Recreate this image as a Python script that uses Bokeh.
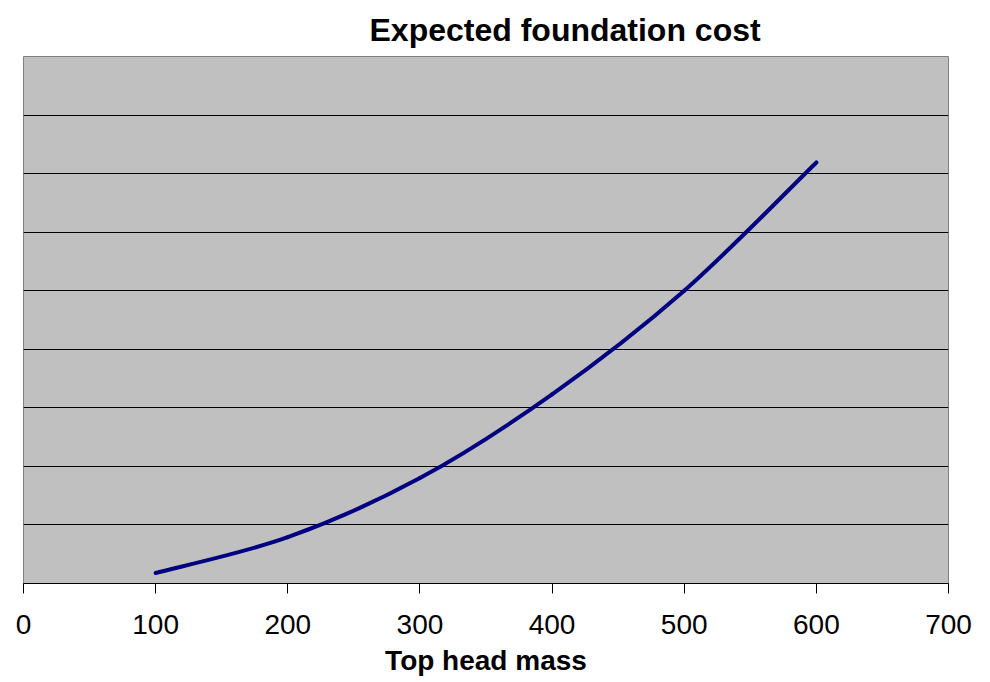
from bokeh.plotting import figure
from bokeh.models import Range1d, FixedTicker, ColumnDataSource
from bokeh.embed import file_html
from bokeh.resources import INLINE

# Expected foundation cost against top head mass
mass = [100, 200, 300, 400, 500, 600]
cost = [0.18, 0.79, 1.80, 3.23, 5.00, 7.19]
x_ticks = [0, 100, 200, 300, 400, 500, 600, 700]
y_grid = [1, 2, 3, 4, 5, 6, 7, 8]

FONT = "Liberation Sans"

p = figure(width=990, height=682, output_backend="svg", toolbar_location=None,
           x_range=Range1d(0, 700), y_range=Range1d(0, 9),
           min_border_left=23, min_border_right=42,
           min_border_top=56, min_border_bottom=99,
           title="Expected foundation cost")

p.border_fill_color = "white"
p.background_fill_color = "#C0C0C0"
p.outline_line_color = "#808080"
p.outline_line_width = 1

p.title.text_font = FONT
p.title.text_font_size = "32px"
p.title.text_font_style = "bold"
p.title.text_color = "black"
p.title.align = "left"
p.title.offset = 346
p.title.standoff = 18

p.yaxis.visible = False
p.ygrid.ticker = FixedTicker(ticks=y_grid)
p.ygrid.grid_line_color = "black"
p.ygrid.grid_line_width = 1
p.xgrid.grid_line_color = None

ax = p.xaxis[0]
ax.ticker = FixedTicker(ticks=x_ticks)
ax.axis_line_color = "black"
ax.axis_line_width = 1
ax.major_tick_line_color = "black"
ax.major_tick_out = 10
ax.major_tick_in = 0
ax.minor_tick_line_color = None
ax.major_label_text_font = FONT
ax.major_label_text_font_size = "28px"
ax.major_label_text_color = "black"
ax.major_label_standoff = 21
ax.axis_label = "Top head mass"
ax.axis_label_text_font = FONT
ax.axis_label_text_font_size = "28px"
ax.axis_label_text_font_style = "bold"
ax.axis_label_text_color = "black"
ax.axis_label_standoff = 8

# Smoothed curve: cubic Bezier segments through the data points
n = len(mass)
seg = dict(x0=[], y0=[], x1=[], y1=[], cx0=[], cy0=[], cx1=[], cy1=[])
for i in range(n - 1):
    xp, yp = (mass[i - 1], cost[i - 1]) if i > 0 else (mass[i], cost[i])
    xn, yn = (mass[i + 2], cost[i + 2]) if i + 2 < n else (mass[i + 1], cost[i + 1])
    seg["x0"].append(mass[i]); seg["y0"].append(cost[i])
    seg["x1"].append(mass[i + 1]); seg["y1"].append(cost[i + 1])
    seg["cx0"].append(mass[i] + (mass[i + 1] - xp) / 6)
    seg["cy0"].append(cost[i] + (cost[i + 1] - yp) / 6)
    seg["cx1"].append(mass[i + 1] - (xn - mass[i]) / 6)
    seg["cy1"].append(cost[i + 1] - (yn - cost[i]) / 6)

p.bezier(x0="x0", y0="y0", x1="x1", y1="y1", cx0="cx0", cy0="cy0",
         cx1="cx1", cy1="cy1", source=ColumnDataSource(seg),
         line_color="#000080", line_width=4, line_cap="round")

open("out.html", "w").write(file_html(p, INLINE))
